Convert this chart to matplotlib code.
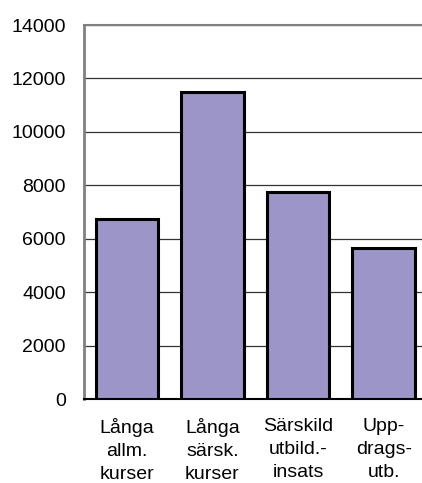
import matplotlib.pyplot as plt

# data
categories = ["Långa\nallm.\nkurser", "Långa\nsärsk.\nkurser",
              "Särskild\nutbild.-\ninsats", "Upp-\ndrags-\nutb."]
values = [6730, 11480, 7750, 5670]
yticks = [0, 2000, 4000, 6000, 8000, 10000, 12000, 14000]

plt.rcParams['font.family'] = ['Liberation Sans', 'DejaVu Sans']

fig = plt.figure(figsize=(4.22, 4.83), dpi=100)
# axes runs a bit past the right edge like in the original
ax = fig.add_axes([84 / 422, 1 - 399 / 483, 342.5 / 422, 374 / 483])

x = range(len(categories))
ax.bar(x, values, width=0.73, color='#9B95C8', edgecolor='black', linewidth=2.2, zorder=3)

ax.set_xlim(-0.5, 3.5)
ax.set_ylim(0, 14000)
ax.set_yticks(yticks)
ax.set_yticklabels([str(t) for t in yticks], fontsize=14)
ax.set_xticks(list(x))
ax.set_xticklabels(categories, fontsize=14, linespacing=1.45)
ax.tick_params(axis='both', length=0)
ax.tick_params(axis='y', pad=13)
ax.tick_params(axis='x', pad=14)

ax.yaxis.grid(True, color='#333333', linewidth=0.9, zorder=0)
ax.set_axisbelow(True)

ax.spines['right'].set_visible(False)
ax.spines['left'].set_color('#808080')
ax.spines['left'].set_linewidth(2)
ax.spines['top'].set_color('#808080')
ax.spines['top'].set_linewidth(1.5)
ax.spines['bottom'].set_color('black')
ax.spines['bottom'].set_linewidth(1.5)

plt.savefig('out.png', dpi=100)
